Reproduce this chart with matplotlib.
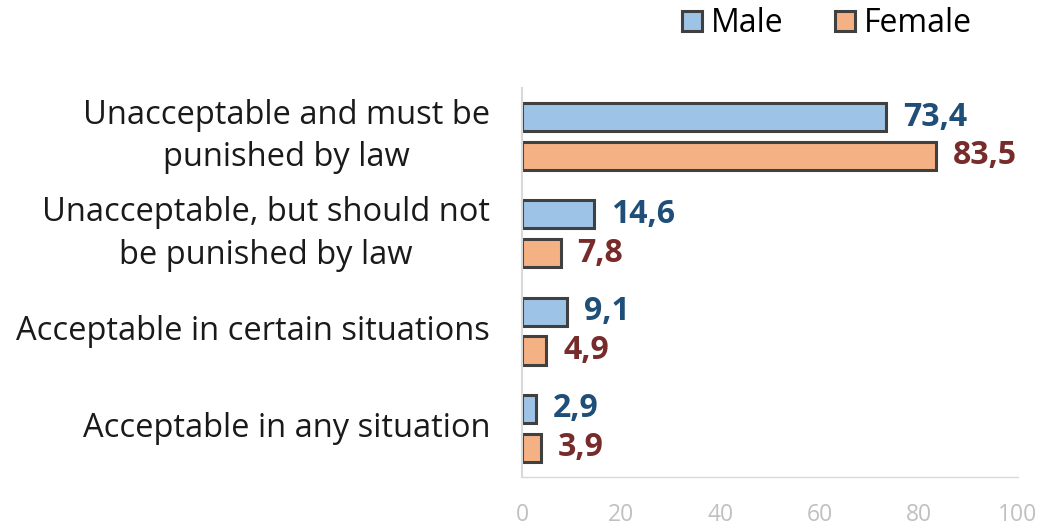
import numpy as np
from matplotlib import pyplot as plt
from matplotlib.patches import Patch

plt.rcParams['font.family'] = ['Open Sans', 'DejaVu Sans']

categories = ['Unacceptable and must be\npunished by law',
              'Unacceptable, but should not\nbe punished by law',
              'Acceptable in certain situations',
              'Acceptable in any situation']
male = [73.4, 14.6, 9.1, 2.9]
female = [83.5, 7.8, 4.9, 3.9]
xticks = [0, 20, 40, 60, 80, 100]

male_col = '#9DC3E6'
female_col = '#F4B183'
edge = '#404040'

fig = plt.figure(figsize=(10.43, 5.26), dpi=100)
ax = fig.add_axes([0.5005, 0.093, 0.4755, 0.74])

y = np.arange(len(categories))
off = 0.2
h = 0.29
ax.barh(y - off, male, height=h, color=male_col, edgecolor=edge, linewidth=2.2)
ax.barh(y + off, female, height=h, color=female_col, edgecolor=edge, linewidth=2.2)

for i in range(len(categories)):
    ax.text(male[i] + 3.4, y[i] - off, f'{male[i]:.1f}'.replace('.', ','),
            va='center', ha='left', fontsize=23, fontweight='bold', color='#1F4E79')
    ax.text(female[i] + 3.4, y[i] + off, f'{female[i]:.1f}'.replace('.', ','),
            va='center', ha='left', fontsize=23, fontweight='bold', color='#772B2B')
    # category label left of the axis
    ax.annotate(categories[i], xy=(0, y[i]), xycoords=ax.get_yaxis_transform(),
                xytext=(-23, 0), textcoords='offset points',
                ha='right', va='center', multialignment='center',
                fontsize=23.5, color='#1a1a1a', linespacing=1.38)

ax.set_xlim(0, 100)
ax.set_ylim(3.5, -0.5)
ax.set_yticks([])
ax.set_xticks(xticks)
ax.set_xticklabels([str(t) for t in xticks], fontsize=16.5, color='#C0C0C0')
ax.tick_params(axis='both', length=0)
ax.tick_params(axis='x', pad=19)
for s in ['top', 'right']:
    ax.spines[s].set_visible(False)
ax.spines['left'].set_color('#D9D9D9')
ax.spines['left'].set_linewidth(1.5)
ax.spines['bottom'].set_color('#D9D9D9')
ax.spines['bottom'].set_linewidth(1)

handles = [Patch(facecolor=male_col, edgecolor=edge, linewidth=2.2, label='Male'),
           Patch(facecolor=female_col, edgecolor=edge, linewidth=2.2, label='Female')]
fig.legend(handles=handles, loc='center', bbox_to_anchor=(0.793, 0.955), ncol=2,
           frameon=False, fontsize=23, handlelength=0.62, handleheight=0.62,
           handletextpad=0.3, columnspacing=1.6)

fig.savefig('out.png', dpi=100)
